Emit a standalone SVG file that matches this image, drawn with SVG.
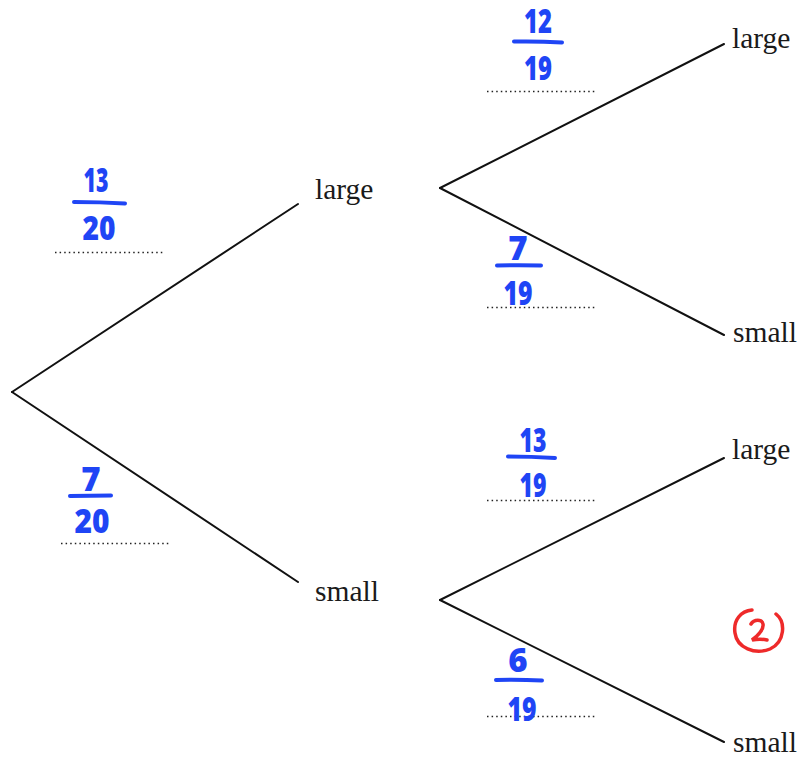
<svg xmlns="http://www.w3.org/2000/svg" width="806" height="758" viewBox="0 0 806 758">
<style>
.br{stroke:#111;stroke-width:2;fill:none;stroke-linecap:round}
.lbl{font-family:"Liberation Serif","Times New Roman",serif;font-size:29.5px;fill:#1a1a1a}
.dot{stroke:#222;stroke-width:1.5;stroke-dasharray:1.5 3.1;fill:none}
.num{font-family:"Open Sans","DejaVu Sans",sans-serif;font-weight:800;font-size:33px;fill:#1f45f5;text-anchor:middle}
.bar{stroke:#1f45f5;stroke-width:4;stroke-linecap:round;fill:none}
.mark{stroke:#ee2a2a;stroke-width:3.5;fill:none;stroke-linecap:round}
</style>
<rect width="806" height="758" fill="#fff"/>
<g id="connectors">
<line class="br" x1="12" y1="392" x2="298" y2="204"/>
<line class="br" x1="12" y1="392" x2="298" y2="582"/>
<line class="br" x1="440" y1="188" x2="724" y2="44"/>
<line class="br" x1="440" y1="188" x2="724" y2="335"/>
<line class="br" x1="440" y1="600" x2="724" y2="458"/>
<line class="br" x1="440" y1="600" x2="724" y2="742"/>
</g>
<g id="node-large1"><text class="lbl" x="315" y="199">large</text></g>
<g id="node-small1"><text class="lbl" x="315" y="601">small</text></g>
<g id="node-large2"><text class="lbl" x="732" y="48">large</text></g>
<g id="node-small2"><text class="lbl" x="733" y="342">small</text></g>
<g id="node-large3"><text class="lbl" x="732" y="459">large</text></g>
<g id="node-small3"><text class="lbl" x="733" y="752">small</text></g>
<g id="prob-13-20">
<line class="dot" x1="55" y1="252.5" x2="164" y2="252.5"/>
<text class="num" x="96" y="192" textLength="25" lengthAdjust="spacingAndGlyphs">13</text>
<path class="bar" d="M74 202 Q100 202 125 203.5"/>
<text class="num" x="99" y="240" textLength="33" lengthAdjust="spacingAndGlyphs">20</text>
</g>
<g id="prob-7-20">
<line class="dot" x1="61" y1="543.5" x2="170" y2="543.5"/>
<text class="num" x="91" y="491">7</text>
<path class="bar" d="M70 496 Q90 495.5 111 495.5"/>
<text class="num" x="92" y="533" textLength="35" lengthAdjust="spacingAndGlyphs">20</text>
</g>
<g id="prob-12-19">
<line class="dot" x1="487" y1="91.5" x2="596" y2="91.5"/>
<text class="num" x="538" y="33" textLength="28" lengthAdjust="spacingAndGlyphs">12</text>
<path class="bar" d="M514 41.5 Q538 41 562 42.5"/>
<text class="num" x="538" y="80" textLength="28" lengthAdjust="spacingAndGlyphs">19</text>
</g>
<g id="prob-7-19">
<line class="dot" x1="487" y1="307.5" x2="596" y2="307.5"/>
<text class="num" x="518" y="260">7</text>
<path class="bar" d="M497 265.5 Q519 265 541 265.5"/>
<text class="num" x="518" y="305" textLength="29" lengthAdjust="spacingAndGlyphs">19</text>
</g>
<g id="prob-13-19">
<line class="dot" x1="487" y1="500.5" x2="596" y2="500.5"/>
<text class="num" x="533" y="452" textLength="27" lengthAdjust="spacingAndGlyphs">13</text>
<path class="bar" d="M508 456.5 Q531 456.5 555 458"/>
<text class="num" x="533" y="497" textLength="27" lengthAdjust="spacingAndGlyphs">19</text>
</g>
<g id="prob-6-19">
<line class="dot" x1="487" y1="716.5" x2="596" y2="716.5"/>
<text class="num" x="518" y="672">6</text>
<path class="bar" d="M496 680 Q519 679.5 542 680.5"/>
<text class="num" x="522" y="721" textLength="29" lengthAdjust="spacingAndGlyphs">19</text>
</g>
<g id="mark-2">
<path class="mark" d="M776 614 C786 622 785 642 770 649 C755 655 737 648 735 633 C733 620 741 611 752 610"/>
<path class="mark" d="M751 624 C754 619 762 619 763 624 C764 630 756 637 752 640 C757 639 763 639 767 640" stroke-width="3"/>
</g>
</svg>
